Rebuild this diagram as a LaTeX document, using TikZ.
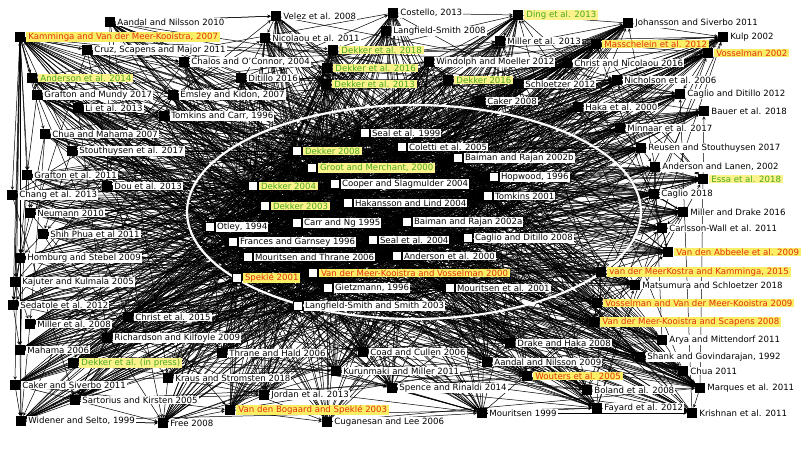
\documentclass[tikz,border=0pt]{standalone}
\usepackage{fontspec}
\setmainfont{DejaVu Sans}
\usetikzlibrary{backgrounds}

\definecolor{hlyellow}{RGB}{250,238,100}
\definecolor{citered}{RGB}{226,48,20}
\definecolor{citegreen}{RGB}{72,168,28}

% outer ring (black squares) and core (white squares)
\def\outerlist{aan10,cru11,cha04,dit16,gra17,ems07,li13,tom96,chu07,sto17,gra11,dou13,cha13,neu10,shi11,hom09,kaj05,sed12,mil08,chr15,ric09,mah06,thr06,cak11,kra18,sar05,jor13,wid99,fre08,cug06,coa06,kur11,spe14,mou99,aan09,dra08,ary11,sha92,chu11,mar11,bol08,fay12,kri11,mat18,car11,mil16,cag18,and02,reu17,min17,bau18,hak00,cag12,nic06,sch12,chr16,kul02,joh11,mil13,win12,cak08,cos13,lan08,vel08,nic11,kam07,mas12,vos02,abb09,mee15,vos09,mee08,wou05,bog03,and14,dek18,dek16,dek13,dek16b,din13,ess18,dekip}
\def\innerlist{sea99,col05,bai02b,hop96,coo04,tom01,hak04,otl94,car95,bai02a,fra96,sea04,cag08,mou06,and00,gie96,mou01,lan03,dek08,gro00,dek04,dek03,spe01,mee00}

\begin{document}
\begin{tikzpicture}[x=1pt, y=-1pt, font=\fontsize{8.6}{9.6}\selectfont,
    blk/.style={fill=black, minimum size=10pt, inner sep=0},
    wht/.style={draw=black, fill=white, line width=0.6pt, minimum size=9pt, inner sep=0},
    lbl/.style={anchor=west, fill=white, inner sep=1pt, xshift=1pt},
    redlbl/.style={lbl, fill=hlyellow, text=citered, inner xsep=2pt},
    grnlbl/.style={lbl, fill=hlyellow!75!white, text=citegreen, inner xsep=2pt},
    cite/.style={line width=0.5pt, -stealth}]

\useasboundingbox (0,0) rectangle (803,450);

\draw[white, line width=2.2pt] (414,212) ellipse [x radius=227, y radius=107];

% outer ring
\foreach \n/\x/\y/\t in {aan10/110/22/{Aandal and Nilsson 2010}, cru11/87/50/{Cruz, Scapens and Major 2011},
    cha04/184/62/{Chalos and O'Connor, 2004}, dit16/241/78/{Ditillo 2016}, gra17/37/95/{Grafton and Mundy 2017},
    ems07/173/95/{Emsley and Kidon, 2007}, li13/78/108/{Li et al. 2013}, tom96/164/116/{Tomkins and Carr, 1996},
    chu07/45/134/{Chua and Mahama 2007}, sto17/72/151/{Stouthuysen et al. 2017}, gra11/27/175/{Grafton et al. 2011},
    dou13/107/186/{Dou et al. 2013}, cha13/12/195/{Chang et al. 2013}, neu10/30/213/{Neumann 2010},
    shi11/43/234/{Shih Phua et al 2011}, hom09/20/258/{Homburg and Stebel 2009}, kaj05/15/282/{Kajuter and Kulmala 2005},
    sed12/13/305/{Sedatole et al. 2012}, mil08/30/324/{Miller et al. 2008}, chr15/128/317/{Christ et al. 2015},
    ric09/107/338/{Richardson and Kilfoyle 2009}, mah06/20/350/{Mahama 2006}, thr06/222/353/{Thrane and Hald 2006},
    cak11/15/385/{Caker and Siverbo 2011}, kra18/168/378/{Kraus and Stromsten 2018}, sar05/75/400/{Sartorius and Kirsten 2005},
    jor13/264/395/{Jordan et al. 2013}, wid99/21/421/{Widener and Selto, 1999}, fre08/163/423/{Free 2008},
    cug06/327/422/{Cuganesan and Lee 2006}, coa06/363/352/{Coad and Cullen 2006}, kur11/336/371/{Kurunmaki and Miller 2011},
    spe14/392/388/{Spence and Rinaldi 2014}, mou99/482/413/{Mouritsen 1999}, aan09/487/362/{Aandal and Nilsson 2009},
    dra08/510/343/{Drake and Haka 2008}, ary11/662/340/{Arya and Mittendorf 2011}, sha92/640/357/{Shank and Govindarajan, 1992},
    chu11/683/371/{Chua 2011}, mar11/700/388/{Marques et al. 2011}, bol08/587/390/{Boland et al. 2008},
    fay12/597/408/{Fayard et al. 2012}, kri11/692/413/{Krishnan et al. 2011}, mat18/635/285/{Matsumura and Schloetzer 2018},
    car11/662/228/{Carlsson-Wall et al. 2011}, mil16/683/212/{Miller and Drake 2016}, cag18/654/194/{Caglio 2018},
    and02/655/167/{Anderson and Lanen, 2002}, reu17/641/148/{Reusen and Stouthuysen 2017}, min17/620/128/{Minnaar et al. 2017},
    bau18/704/111/{Bauer et al. 2018}, hak00/578/107/{Haka et al. 2000}, cag12/680/94/{Caglio and Ditillo 2012},
    nic06/617/80/{Nicholson et al. 2006}, sch12/518/84/{Schloetzer 2012}, chr16/567/63/{Christ and Nicolaou 2016},
    kul02/723/37/{Kulp 2002}, joh11/628/23/{Johansson and Siverbo 2011}, mil13/500/41/{Miller et al. 2013},
    win12/429/62/{Windolph and Moeller 2012}, cak08/480/101/{Caker 2008}, cos13/393/13/{Costello, 2013},
    lan08/386/31/{Langfield-Smith 2008}, vel08/276/16/{Velez et al. 2008}, nic11/265/38/{Nicolaou et al. 2011}}
{
  \node[blk] (\n) at (\x,\y) {};
  \node[lbl] (l\n) at (\n.east) {\t};
}
\foreach \n/\x/\y/\t in {kam07/20/37/{Kamminga and Van der Meer-Kooistra, 2007}, mas12/596/44/{Masschelein et al. 2012},
    vos02/708/53/{Vosselman 2002}, abb09/668/252/{Van den Abbeele et al. 2009},
    mee15/601/272/{van der MeerKostra and Kamminga, 2015}, vos09/597/303/{Vosselman and Van der Meer-Kooistra 2009},
    mee08/594/322/{Van der Meer-Kooistra and Scapens 2008}, wou05/527/376/{Wouters et al. 2005},
    bog03/230/410/{Van den Bogaard and Speklé 2003}}
{
  \node[blk] (\n) at (\x,\y) {};
  \node[redlbl] (l\n) at (\n.east) {\t};
}
\foreach \n/\x/\y/\t in {and14/32/78/{Anderson et al. 2014}, dek18/333/50/{Dekker et al. 2018},
    dek16/327/68/{Dekker et al. 2016}, dek13/326/84/{Dekker et al. 2013}, dek16b/448/80/{Dekker 2016},
    din13/518/15/{Ding et al. 2013}, ess18/703/179/{Essa et al. 2018}, dekip/73/363/{Dekker et al. (in press)}}
{
  \node[blk] (\n) at (\x,\y) {};
  \node[grnlbl] (l\n) at (\n.east) {\t};
}

% core inside the ellipse
\foreach \n/\x/\y/\t in {sea99/365/133/{Seal et al. 1999}, col05/402/147/{Coletti et al. 2005},
    bai02b/458/158/{Baiman and Rajan 2002b}, hop96/494/177/{Hopwood, 1996}, coo04/335/184/{Cooper and Slagmulder 2004},
    tom01/488/196/{Tomkins 2001}, hak04/348/203/{Hakansson and Lind 2004}, otl94/210/227/{Otley, 1994},
    car95/297/223/{Carr and Ng 1995}, bai02a/407/222/{Baiman and Rajan 2002a}, fra96/233/242/{Frances and Garnsey 1996},
    sea04/373/240/{Seal et al. 2004}, cag08/468/238/{Caglio and Ditillo 2008}, mou06/248/257/{Mouritsen and Thrane 2006},
    and00/397/256/{Anderson et al. 2000}, gie96/328/288/{Gietzmann, 1996}, mou01/450/288/{Mouritsen et al. 2001},
    lan03/298/306/{Langfield-Smith and Smith 2003}}
{
  \node[wht] (\n) at (\x,\y) {};
  \node[lbl] (l\n) at (\n.east) {\t};
}
\foreach \n/\x/\y/\t in {dek08/297/151/{Dekker 2008}, gro00/312/168/{Groot and Merchant, 2000},
    dek04/253/186/{Dekker 2004}, dek03/265/206/{Dekker 2003}}
{
  \node[wht] (\n) at (\x,\y) {};
  \node[grnlbl] (l\n) at (\n.east) {\t};
}
\foreach \n/\x/\y/\t in {spe01/237/278/{Speklé 2001}, mee00/313/273/{Van der Meer-Kooistra and Vosselman 2000}}
{
  \node[wht] (\n) at (\x,\y) {};
  \node[redlbl] (l\n) at (\n.east) {\t};
}

% citation lines
\begin{scope}[on background layer]
  \fill[white] (0,0) rectangle (803,450);
  \foreach [count=\i] \a in \outerlist {
    \foreach [count=\j] \b in \innerlist {
      \pgfmathtruncatemacro\k{mod(\i*3+\j*5+\i*\j,9)}
      \ifnum\k<6 \draw[cite] (\a) -- (\b); \fi
    }
  }
  \foreach [count=\i] \a in \innerlist {
    \foreach [count=\j] \b in \innerlist {
      \ifnum\i<\j \draw[cite] (\a) -- (\b); \fi
    }
  }
  \foreach [count=\i] \a in \outerlist {
    \foreach [count=\j] \b in \outerlist {
      \pgfmathtruncatemacro\k{mod(\i*\j+2*\i+\j,13)}
      \ifnum\i<\j \ifnum\k=0 \draw[cite] (\a) -- (\b); \fi \fi
    }
  }
  \foreach \b in {and14,gra17,chu07,gra11,cha13,neu10,hom09,kaj05,sed12,mah06,cak11,wid99,cru11,cha04,ems07,li13,tom96,sto17}
    \draw[cite] (kam07) -- (\b);
  \foreach \a/\b in {aan10/vel08, wid99/fre08, sar05/fre08, cak11/sar05, cak11/wid99, mah06/wid99, fre08/bog03,
      bog03/cug06, cug06/mou99, spe14/mou99, kur11/spe14, mou99/fay12, fay12/kri11, bol08/kri11, mar11/kri11,
      chu11/mar11, sha92/mar11, ary11/chu11, wou05/fay12, aan09/fay12, dra08/sha92, mee08/ary11, vos09/mee08,
      mat18/vos09, mee15/mat18, abb09/mee15, car11/abb09, mil16/car11, cag18/mil16, and02/cag18, ess18/and02,
      reu17/and02, min17/reu17, bau18/min17, cag12/min17, nic06/hak00, vos02/nic06, kul02/vos02, mas12/kul02,
      joh11/mas12, din13/mil13, din13/win12, cos13/lan08, vel08/nic11, nic11/dek18, lan08/dek18, mil13/sch12,
      win12/dek16b, chr16/sch12, kra18/fre08, jor13/bog03, thr06/kra18, ric09/sar05, dekip/cak11, chr15/ric09,
      gra17/gra11, chu07/neu10, sto17/shi11, gra11/hom09, neu10/kaj05, hom09/sed12, kaj05/mil08, sed12/mah06,
      sar05/jor13, kra18/jor13, kur11/mou99, coa06/spe14, spe14/fay12, bol08/mar11, sha92/chu11, mee15/ary11,
      vos02/cag12, joh11/kul02, cos13/din13, win12/cak08, mil13/chr16, chr16/nic06, nic06/cag12, hak00/min17}
    \draw[cite] (\a) -- (\b);
\end{scope}

\end{tikzpicture}
\end{document}
